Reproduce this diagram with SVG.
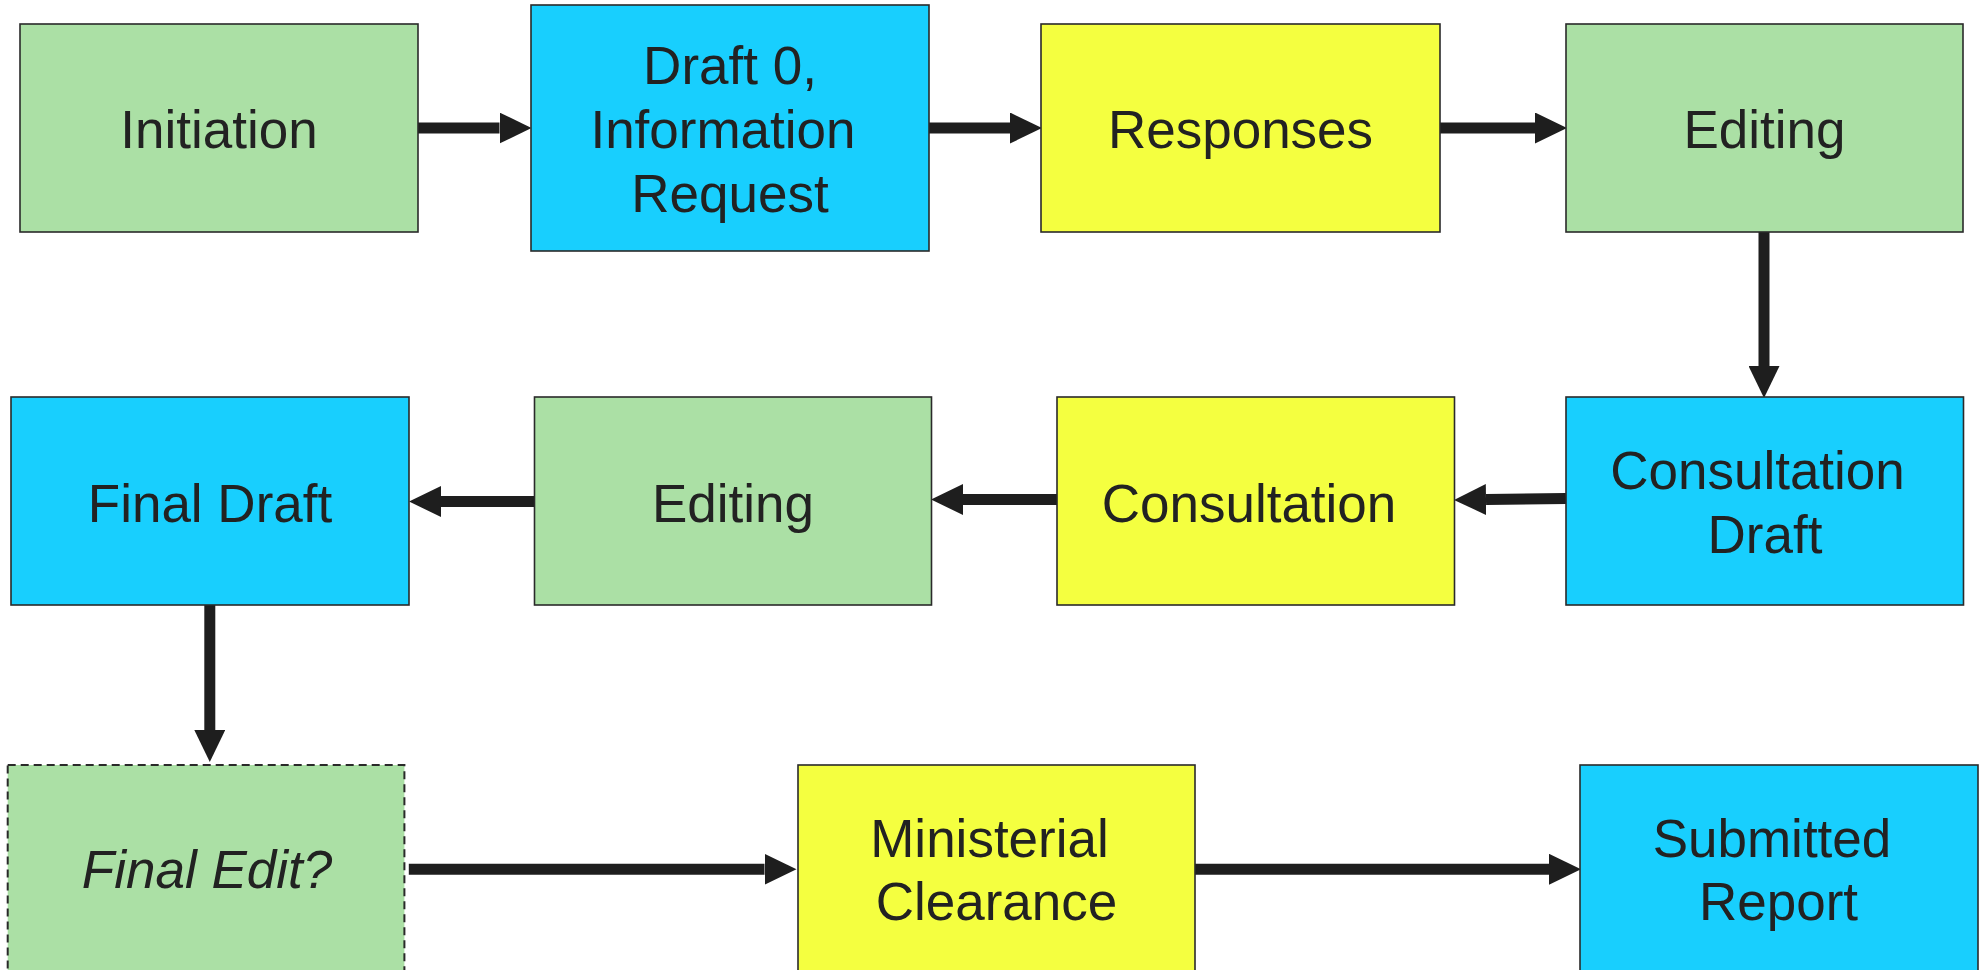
<svg xmlns="http://www.w3.org/2000/svg" width="1979" height="970" viewBox="0 0 1979 970">
<style>
.box{stroke:#2a2a2a;stroke-width:1.6}
.g{fill:#abe0a5}
.b{fill:#18cffe}
.y{fill:#f4ff40}
.dash{stroke-dasharray:8 5;stroke-width:2}
.t{font-family:"Liberation Sans",Arial,sans-serif;font-size:53px;fill:#222;text-anchor:middle}
.i{font-style:italic}
.c{stroke:#1e1e1e;stroke-width:11;fill:none;marker-end:url(#ah)}
</style>
<defs>
<marker id="ah" markerUnits="userSpaceOnUse" markerWidth="32" markerHeight="31" refX="0" refY="15.5" orient="auto">
<path d="M0,0 L32,15.5 L0,31 Z" fill="#1e1e1e"/>
</marker>
</defs>
<rect width="1979" height="970" fill="#fff"/>
<g id="connectors">
<path class="c" d="M418,128 H499.5"/>
<path class="c" d="M929,128 H1010"/>
<path class="c" d="M1440,128 H1535"/>
<path class="c" d="M1764,232 V366"/>
<path class="c" d="M1566,498.5 L1486,499.5"/>
<path class="c" d="M1057,499.5 H963"/>
<path class="c" d="M534.5,501.5 H441"/>
<path class="c" d="M209.8,605 V730"/>
<path class="c" d="M408.8,869.3 H764.5"/>
<path class="c" d="M1195,869.3 H1549"/>
</g>
<g id="n-initiation"><rect class="box g" x="20" y="24" width="398" height="208"/><text class="t" x="219" y="147.7">Initiation</text></g>
<g id="n-draft0"><rect class="box b" x="531" y="5" width="398" height="246"/><text class="t" x="730" y="84">Draft 0,</text><text class="t" x="723" y="147.7">Information</text><text class="t" x="730" y="211.5">Request</text></g>
<g id="n-responses"><rect class="box y" x="1041" y="24" width="399" height="208"/><text class="t" x="1240.5" y="147.7">Responses</text></g>
<g id="n-editing1"><rect class="box g" x="1566" y="24" width="397" height="208"/><text class="t" x="1764.5" y="147.7">Editing</text></g>
<g id="n-consultation-draft"><rect class="box b" x="1566" y="397" width="397.5" height="208"/><text class="t" x="1757.5" y="489">Consultation</text><text class="t" x="1765" y="552.5">Draft</text></g>
<g id="n-consultation"><rect class="box y" x="1057" y="397" width="397.5" height="208"/><text class="t" x="1249" y="521.7">Consultation</text></g>
<g id="n-editing2"><rect class="box g" x="534.5" y="397" width="397" height="208"/><text class="t" x="733" y="521.7">Editing</text></g>
<g id="n-final-draft"><rect class="box b" x="11" y="397" width="398" height="208"/><text class="t" x="210" y="521.7">Final Draft</text></g>
<g id="n-final-edit"><rect class="box g dash" x="7.7" y="765" width="396.7" height="212"/><text class="t i" x="207" y="887.7">Final Edit?</text></g>
<g id="n-ministerial"><rect class="box y" x="798" y="765" width="397" height="212"/><text class="t" x="989.5" y="856.7">Ministerial</text><text class="t" x="996.5" y="920">Clearance</text></g>
<g id="n-submitted"><rect class="box b" x="1580" y="765" width="398" height="212"/><text class="t" x="1772" y="856.7">Submitted</text><text class="t" x="1778.5" y="920">Report</text></g>
</svg>
